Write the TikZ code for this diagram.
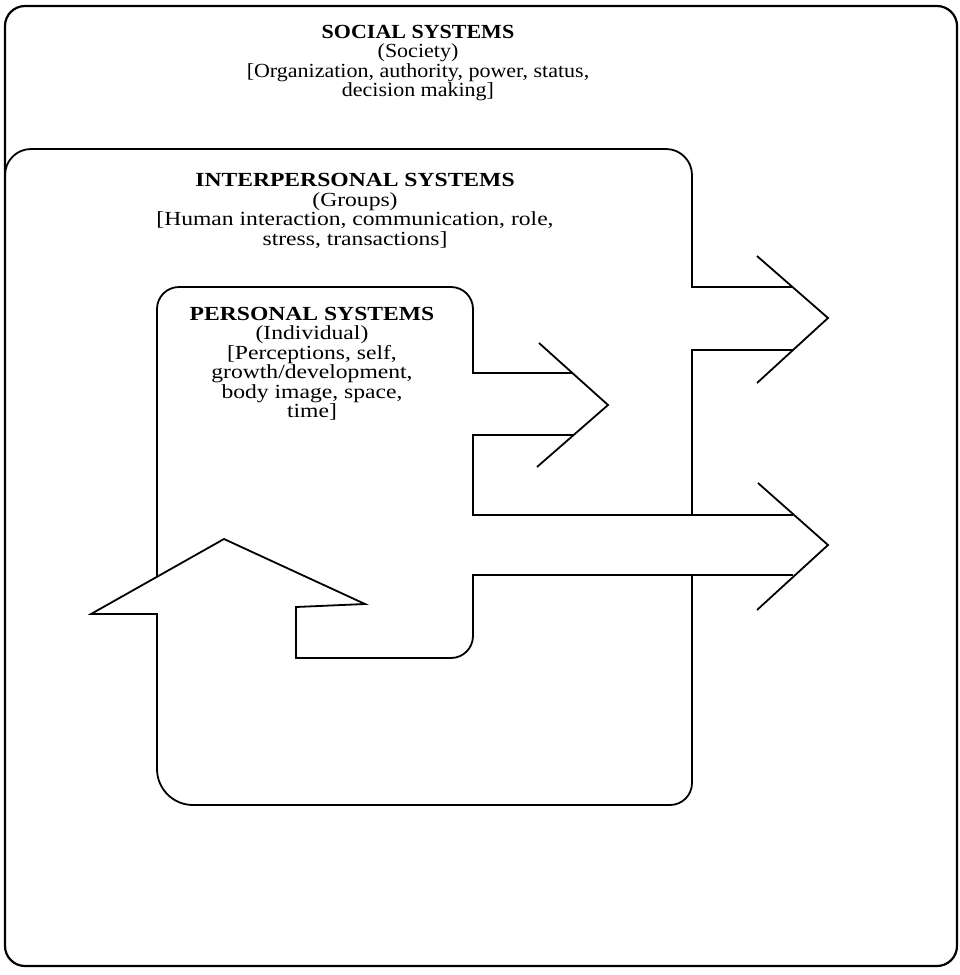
\documentclass[tikz,border=0pt]{standalone}
\usepackage{fontspec}
\newfontfamily\diagfont{Liberation Serif}[FakeStretch=1.18]
\newfontfamily\socialfont{Liberation Serif}[FakeStretch=1.1]
\begin{document}
\begin{tikzpicture}[x=1pt,y=-1pt,
  boxline/.style={line width=2.2pt, rounded corners=20pt},
  edgeline/.style={line width=1.8pt, line join=miter},
  systext/.style={font=\diagfont\fontsize{20}{19.5}\selectfont, align=center, anchor=north, inner sep=0pt}]
\path[fill=white, use as bounding box] (0,0) rectangle (960,975);

% social systems frame
\draw[boxline] (5,6) rectangle (957,966);

% interpersonal systems: top and upper right edge
\draw[edgeline, rounded corners=26pt] (5,260) -- (5,149) -- (692,149) -- (692,240);
\draw[edgeline] (692,240) -- (692,287) -- (793,287);
\draw[edgeline] (757,256) -- (828,318) -- (757,383);
\draw[edgeline] (793,350) -- (692,350) -- (692,515);

% interpersonal systems: lower part with the upward arrow
\draw[edgeline] (692,575) -- (692,700);
\draw[edgeline, rounded corners=22pt] (692,700) -- (692,805) -- (420,805);
\draw[edgeline, rounded corners=36pt] (420,805) -- (157,805) -- (157,700);
\draw[edgeline] (157,700) -- (157,614) -- (91,614) -- (224,539) -- (365,604)
  -- (296,607) -- (296,658) -- (400,658);
\draw[edgeline, rounded corners=22pt] (400,658) -- (473,658) -- (473,600);
\draw[edgeline] (473,600) -- (473,575) -- (793,575);

% long arrow head
\draw[edgeline] (758,483) -- (828,545) -- (757,610);
\draw[edgeline] (793,515) -- (473,515) -- (473,435) -- (573,435);

% personal systems arrow and box
\draw[edgeline] (539,343) -- (608,405) -- (537,467);
\draw[edgeline] (573,373) -- (473,373) -- (473,340);
\draw[edgeline, rounded corners=22pt] (473,340) -- (473,287) -- (157,287) -- (157,340);
\draw[edgeline] (157,340) -- (157,577);

% texts
\node[systext, font=\socialfont\fontsize{20}{19.5}\selectfont] (social) at (418,24.8) {\textbf{SOCIAL SYSTEMS}\\(Society)\\{}[Organization, authority, power, status,\\decision making]};
\node[systext] (inter) at (355,173.5) {\textbf{INTERPERSONAL SYSTEMS}\\(Groups)\\{}[Human interaction, communication, role,\\stress, transactions]};
\node[systext] (personal) at (312,306.8) {\textbf{PERSONAL SYSTEMS}\\(Individual)\\{}[Perceptions, self,\\growth/development,\\body image, space,\\time]};
\end{tikzpicture}
\end{document}
